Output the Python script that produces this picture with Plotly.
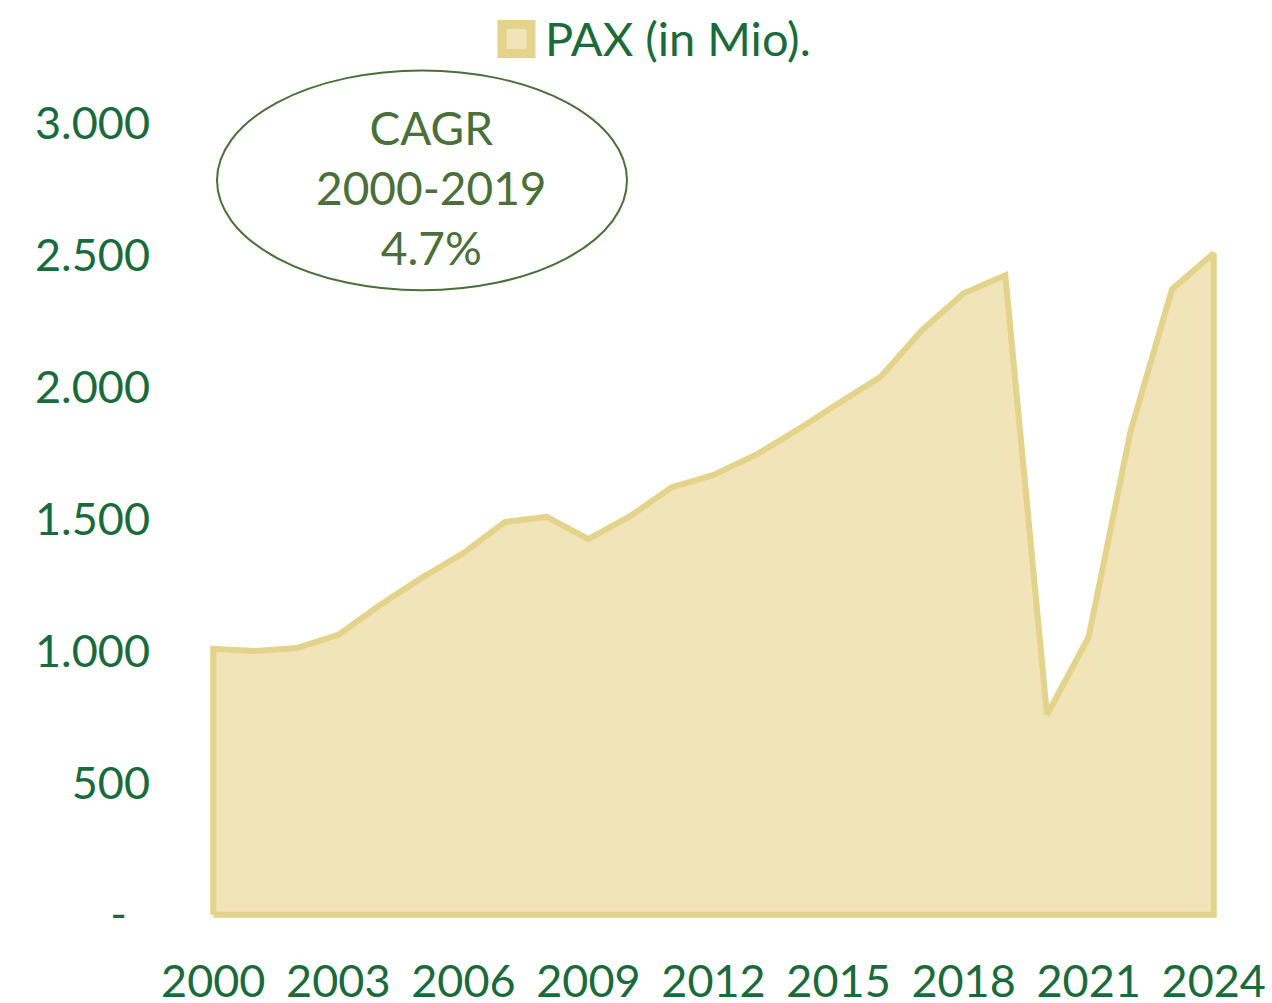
import plotly.graph_objects as go

years = list(range(2000, 2025))
pax = [1008, 1000, 1011, 1061, 1174, 1277, 1371, 1489, 1508, 1424, 1511, 1621,
       1667, 1742, 1837, 1939, 2038, 2216, 2356, 2424, 758, 1053, 1830, 2371, 2508]
x_ticks = [2000, 2003, 2006, 2009, 2012, 2015, 2018, 2021, 2024]
y_ticks = [0, 500, 1000, 1500, 2000, 2500, 3000]
y_tick_text = ["-\u00a0\u00a0", "500", "1.000", "1.500", "2.000", "2.500", "3.000"]
series_name = "PAX (in Mio)."
cagr_text = "CAGR<br>2000-2019<br>4.7%"

FILL = "#F0E4B8"
LINE = "#E4D38B"
TICK_GREEN = "#1A6B3C"
OLIVE = "#4A6F38"
FONT = "Lato, 'Open Sans', sans-serif"

# closed polygon: baseline -> data -> baseline
px = [years[0]] + years + [years[-1], years[0]]
py = [0] + pax + [0, 0]

fig = go.Figure()
fig.add_trace(go.Scatter(
    x=px, y=py, mode="lines", fill="toself", fillcolor=FILL,
    line=dict(color=LINE, width=6, shape="linear"),
    name=series_name, showlegend=False, hoverinfo="skip",
))

W, H = 1272, 1003
L, R, T, B = 207, 52, 96.6, 82.7
plot_h = H - T - B
plot_w = W - L - R

def py_paper(pix):
    return (H - B - pix) / plot_h

def px_paper(pix):
    return (pix - L) / plot_w

# legend (swatch + label)
fig.add_shape(type="rect", xref="paper", yref="paper",
              x0=px_paper(502), x1=px_paper(531), y0=py_paper(53), y1=py_paper(24),
              line=dict(color=LINE, width=9), fillcolor=FILL, layer="above")
fig.add_annotation(xref="paper", yref="paper", x=px_paper(543), y=py_paper(38),
                   text=series_name, showarrow=False, xanchor="left", yanchor="middle",
                   font=dict(family=FONT, size=47, color=TICK_GREEN))

# CAGR ellipse
fig.add_shape(type="circle", xref="paper", yref="paper",
              x0=px_paper(217), x1=px_paper(627), y0=py_paper(290), y1=py_paper(70),
              line=dict(color=OLIVE, width=2), fillcolor="rgba(0,0,0,0)", layer="above")
fig.add_annotation(xref="paper", yref="paper", x=px_paper(431), y=py_paper(187),
                   text=cagr_text, showarrow=False, xanchor="center", yanchor="middle",
                   font=dict(family=FONT, size=46, color=OLIVE), align="center")

fig.update_layout(
    width=W, height=H,
    margin=dict(l=L, r=R, t=T, b=B, autoexpand=False),
    paper_bgcolor="white", plot_bgcolor="white",
    showlegend=False,
    xaxis=dict(range=[1999.85, 2024.15], tickvals=x_ticks,
               ticktext=[str(v) for v in x_ticks], automargin=False,
               showgrid=False, zeroline=False, showline=False, ticks="",
               ticklabelstandoff=31,
               tickfont=dict(family=FONT, size=45, color=TICK_GREEN)),
    yaxis=dict(range=[-20, 3100], tickvals=y_ticks, ticktext=y_tick_text,
               automargin=False,
               showgrid=False, zeroline=False, showline=False, ticks="",
               ticklabelstandoff=56,
               tickfont=dict(family=FONT, size=45, color=TICK_GREEN)),
)

fig.write_html("out.html", config={"displayModeBar": False},
               post_script="document.body.style.margin='0';document.body.style.overflow='hidden';")
